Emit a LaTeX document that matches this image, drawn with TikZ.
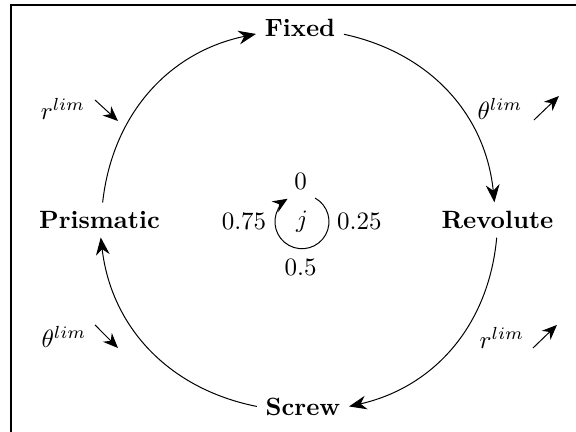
\documentclass[tikz,border=0pt]{standalone}
\usetikzlibrary{arrows.meta}

\begin{document}
\begin{tikzpicture}[
  x=1cm,
  y=1cm,
  >={Stealth[length=7pt,width=5.5pt]},
  joint/.style={font=\bfseries},
  cyc/.style={->, bend left=36},
  hint/.style={-{Stealth[length=6pt,width=5pt]}}
]
  \useasboundingbox (-4.218,-2.981) rectangle (3.881,3.093);
  \draw[line width=0.6pt] (-4.063,-2.981) -- (-4.063,3.023) -- (3.881,3.023);

  \node[joint] (fixed) at (0,2.700) {Fixed};
  \node[joint] (revolute) at (2.777,0) {Revolute};
  \node[joint] (screw) at (0.042,-2.622) {Screw};
  \node[joint] (prismatic) at (-2.819,0) {Prismatic};

  \draw[cyc] (prismatic) to (fixed);
  \draw[cyc] (fixed) to (revolute);
  \draw[cyc] (revolute) to (screw.east);
  \draw[cyc] (screw.west) to (prismatic);

  \node (rlimA) at (-3.332,1.560) {$r^{lim}$};
  \coordinate (rlimA-s) at (-2.882,1.687);
  \coordinate (rlimA-e) at (-2.559,1.392);
  \draw[hint] (rlimA-s) -- (rlimA-e);

  \node (thlimA) at (2.812,1.561) {$\theta^{lim}$};
  \coordinate (thlimA-s) at (3.290,1.406);
  \coordinate (thlimA-e) at (3.641,1.743);
  \draw[hint] (thlimA-s) -- (thlimA-e);

  \node (thlimB) at (-3.318,-1.645) {$\theta^{lim}$};
  \coordinate (thlimB-s) at (-2.882,-1.476);
  \coordinate (thlimB-e) at (-2.559,-1.800);
  \draw[hint] (thlimB-s) -- (thlimB-e);

  \node (rlimB) at (2.840,-1.660) {$r^{lim}$};
  \coordinate (rlimB-s) at (3.276,-1.800);
  \coordinate (rlimB-e) at (3.613,-1.476);
  \draw[hint] (rlimB-s) -- (rlimB-e);

  \node (j) at (0.028,-0.024) {$j$};
  \draw[hint] ([shift={(61:0.38)}]j.center) arc[start angle=61, end angle=-238, radius=0.38];
  \node (p0) at (0.010,0.539) {$0$};
  \node (p25) at (0.834,-0.024) {$0.25$};
  \node (p5) at (0.010,-0.665) {$0.5$};
  \node (p75) at (-0.787,-0.024) {$0.75$};
\end{tikzpicture}
\end{document}
